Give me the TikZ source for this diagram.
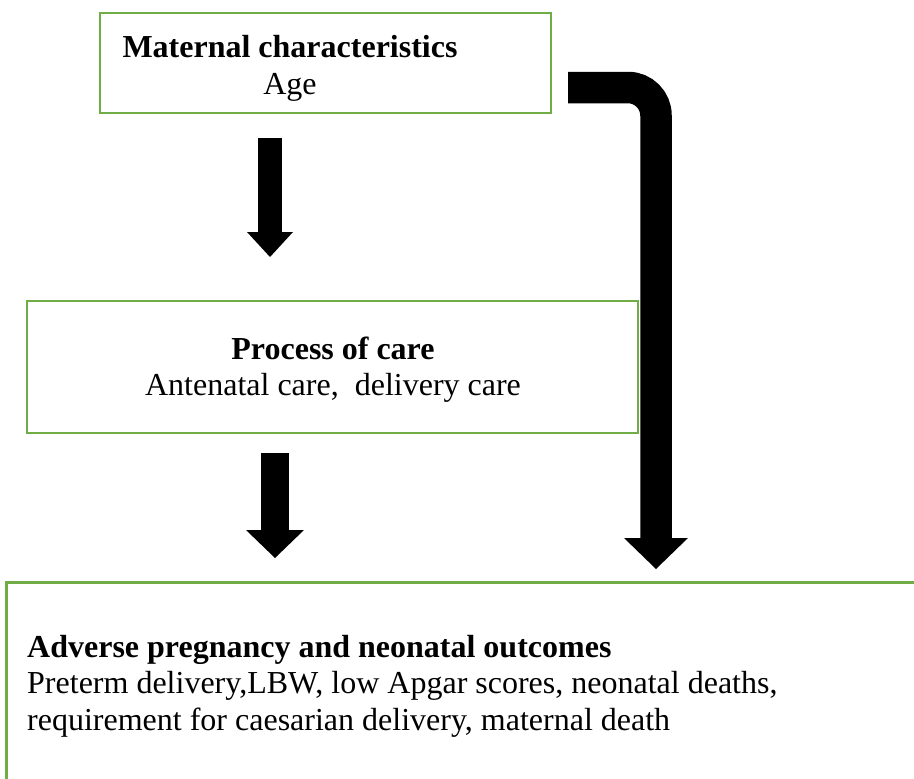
\documentclass[tikz,border=0pt]{standalone}
\usepackage{fontspec}
\setmainfont{Liberation Serif}
\definecolor{boxgreen}{RGB}{112,173,71}
\begin{document}
\begin{tikzpicture}[x=1pt,y=-1pt,
  box/.style={draw=boxgreen,line width=2.5pt,inner sep=0pt},
  txt/.style={inner sep=0pt,anchor=base,font=\fontsize{32}{36.8}\selectfont},
  txtl/.style={txt,anchor=base west},
  shaft/.style={line width=#1,line cap=butt},
  headfill/.style={fill=black,draw=none}]
\useasboundingbox (0,0) rectangle (914,779);
\clip (0,0) rectangle (914,779);
\fill[white] (0,0) rectangle (914,779);
% boxes
\node[box,minimum width=451pt,minimum height=100pt] (mat) at (325.5,63) {};
\node[box,minimum width=611pt,minimum height=132pt] (proc) at (332.5,367) {};
\node[box,anchor=north west,minimum width=940pt,minimum height=240pt] (out) at (5,581) {};
% texts
\node[txt] (matT) at (290,57) {\bfseries Maternal characteristics};
\node[txt] (matA) at (290,94) {Age};
\node[txt] (procT) at (333,359) {\bfseries Process of care};
\node[txt] (procA) at (333,395) {Antenatal care,\ \ delivery care};
\node[txtl] (outT) at (27,657) {\bfseries Adverse pregnancy and neonatal outcomes};
\node[txtl] (outA) at (27,693) {Preterm delivery,LBW, low Apgar scores, neonatal deaths,};
\node[txtl] (outB) at (27,730) {requirement for caesarian delivery, maternal death};
% arrow 1
\coordinate (a1s) at (270,138);
\coordinate (a1e) at (270,233);
\draw[shaft=24pt] (a1s) -- (a1e);
\fill[headfill] (247,232) -- (293,232) -- (270,257) -- cycle;
% arrow 2
\coordinate (a2s) at (275,453);
\coordinate (a2e) at (275,531);
\draw[shaft=28pt] (a2s) -- (a2e);
\fill[headfill] (246,530) -- (304,530) -- (275,558) -- cycle;
% bent arrow
\coordinate (b1) at (568,87.5);
\coordinate (b2) at (656,87.5);
\coordinate (b3) at (656,539);
\draw[shaft=31.5pt,rounded corners=28pt] (b1) -- (b2) -- (b3);
\fill[headfill] (624,538) -- (688,538) -- (656,569) -- cycle;
\end{tikzpicture}
\end{document}
